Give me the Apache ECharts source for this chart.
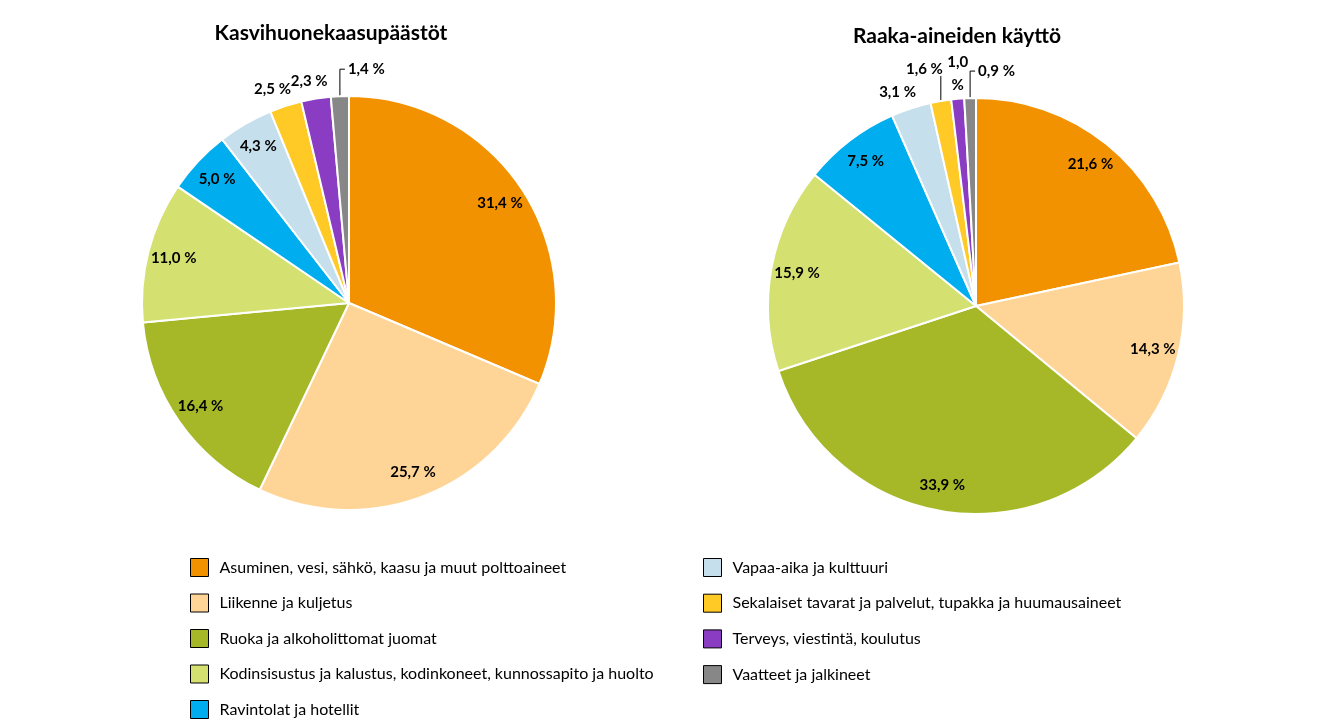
<!DOCTYPE html>
<html>
<head>
<meta charset="utf-8">
<script src="https://cdn.jsdelivr.net/npm/echarts@6/dist/echarts.min.js"></script>
<style>
  html, body { margin: 0; padding: 0; background: #fff; }
  #main { width: 1329px; height: 728px; }
</style>
</head>
<body>
<div id="main"></div>
<script>
// luokat ja värit
var categories = [
  'Asuminen, vesi, sähkö, kaasu ja muut polttoaineet',
  'Liikenne ja kuljetus',
  'Ruoka ja alkoholittomat juomat',
  'Kodinsisustus ja kalustus, kodinkoneet, kunnossapito ja huolto',
  'Ravintolat ja hotellit',
  'Vapaa-aika ja kulttuuri',
  'Sekalaiset tavarat ja palvelut, tupakka ja huumausaineet',
  'Terveys, viestintä, koulutus',
  'Vaatteet ja jalkineet'
];
var colors = ['#F39200', '#FFD597', '#A6B828', '#D4E06F', '#00AEEF',
              '#C6DFEC', '#FFC926', '#8A3CC2', '#878787'];

// osuudet (%)
var ghgValues = [31.4, 25.7, 16.4, 11.0, 5.0, 4.3, 2.5, 2.3, 1.4];
var rawValues = [21.6, 14.3, 33.9, 15.9, 7.5, 3.1, 1.6, 1.0, 0.9];

var titles = ['Kasvihuonekaasupäästöt', 'Raaka-aineiden käyttö'];

var font = 'Lato, "Open Sans", sans-serif';

function fmt(v) {
  return v.toFixed(1).replace('.', ',') + ' %';
}

// varsinaiset sektorit
function sliceData(values) {
  return values.map(function (v, i) {
    return { name: categories[i], value: v, itemStyle: { color: colors[i] } };
  });
}

// läpinäkyvä rengas nimiöitä varten (sisänimiöt n. 0,86 r etäisyydelle)
function labelData(values, wrapSmall) {
  return values.map(function (v, i) {
    var outside = v < 4;
    var text = fmt(v);
    if (wrapSmall && v === 1.0) text = '1,0\n%';
    return {
      name: categories[i],
      value: v,
      itemStyle: { color: 'rgba(0,0,0,0)', borderWidth: 0 },
      label: {
        position: outside ? 'outside' : 'inside',
        formatter: text,
        align: 'center'
      },
      labelLine: {
        show: outside,
        length: 6,
        length2: 0,
        lineStyle: { color: outside && v < 2 ? '#000' : 'rgba(0,0,0,0)', width: 1 }
      }
    };
  });
}

// ulkonimiöiden sijoittelu sektorin reunan mukaan
function makeLayout(placement) {
  return function (params) {
    var pts = params.labelLinePoints;
    if (!pts) return {};
    var mode = placement[params.dataIndex] || 'corner';
    var x0 = pts[0][0], y0 = pts[0][1];
    var top = y0 - 27;
    if (mode === 'corner') {
      var dx = pts[1][0] - x0, dy = pts[1][1] - y0;
      var len = Math.sqrt(dx * dx + dy * dy) || 1;
      dx /= len; dy /= len;
      var w = params.labelRect.width, h = params.labelRect.height;
      return {
        x: x0 + dx * (6 + w), y: y0 + dy * (6 + h / 2),
        align: 'center', verticalAlign: 'middle',
        labelLinePoints: [[x0, y0], [x0, y0], [x0, y0]]
      };
    }
    if (mode === 'lineRight') {
      return {
        x: x0 + 8, y: top, align: 'left', verticalAlign: 'middle',
        labelLinePoints: [[x0, y0], [x0, top], [x0 + 5, top]]
      };
    }
    if (mode === 'lineLeft') {
      return {
        x: x0 + 2, y: top + 7, align: 'right', verticalAlign: 'bottom',
        labelLinePoints: [[x0, y0], [x0, top + 2], [x0, top + 2]]
      };
    }
    if (mode === 'above') {
      return {
        x: x0, y: y0 - 2, align: 'center', verticalAlign: 'bottom',
        labelLinePoints: [[x0, y0], [x0, y0], [x0, y0]]
      };
    }
    return {};
  };
}

var pies = [
  { values: ghgValues, center: [349, 303], r: 207, wrap: false,
    placement: { 8: 'lineRight' } },
  { values: rawValues, center: [976, 306], r: 208, wrap: true,
    placement: { 6: 'lineLeft', 7: 'above', 8: 'lineRight' } }
];

var series = [];
pies.forEach(function (p) {
  series.push({
    type: 'pie',
    center: p.center,
    radius: [0, p.r],
    startAngle: 90,
    clockwise: true,
    animation: false,
    silent: true,
    label: { show: false },
    labelLine: { show: false },
    itemStyle: { borderColor: '#fff', borderWidth: 2 },
    data: sliceData(p.values)
  });
  series.push({
    type: 'pie',
    center: p.center,
    radius: [Math.round(p.r * 0.72), p.r],
    startAngle: 90,
    clockwise: true,
    animation: false,
    silent: true,
    avoidLabelOverlap: false,
    label: {
      show: true,
      color: '#000',
      fontFamily: font,
      fontWeight: 'bold',
      fontSize: 15,
      lineHeight: 23
    },
    labelLayout: makeLayout(p.placement),
    data: labelData(p.values, p.wrap)
  });
});

var legendText = { color: '#000', fontFamily: font, fontSize: 16, padding: [0, 0, 0, 6] };

var option = {
  backgroundColor: '#fff',
  title: [
    { text: titles[0], left: 326, top: 18, textAlign: 'center',
      textStyle: { fontFamily: font, fontWeight: 'bold', fontSize: 21, color: '#000' } },
    { text: titles[1], left: 952, top: 21, textAlign: 'center',
      textStyle: { fontFamily: font, fontWeight: 'bold', fontSize: 21, color: '#000' } }
  ],
  legend: [
    {
      orient: 'vertical', left: 190, top: 558, padding: 0,
      itemWidth: 18, itemHeight: 18, itemGap: 16.5,
      icon: 'rect', selectedMode: false,
      itemStyle: { borderColor: '#000', borderWidth: 1 },
      textStyle: legendText,
      data: categories.slice(0, 5)
    },
    {
      orient: 'vertical', left: 703, top: 558, padding: 0,
      itemWidth: 18, itemHeight: 18, itemGap: 16.7,
      icon: 'rect', selectedMode: false,
      itemStyle: { borderColor: '#000', borderWidth: 1 },
      textStyle: legendText,
      data: categories.slice(5)
    }
  ],
  series: series
};

var myChart = echarts.init(document.getElementById('main'));
myChart.setOption(option);
</script>
</body>
</html>
